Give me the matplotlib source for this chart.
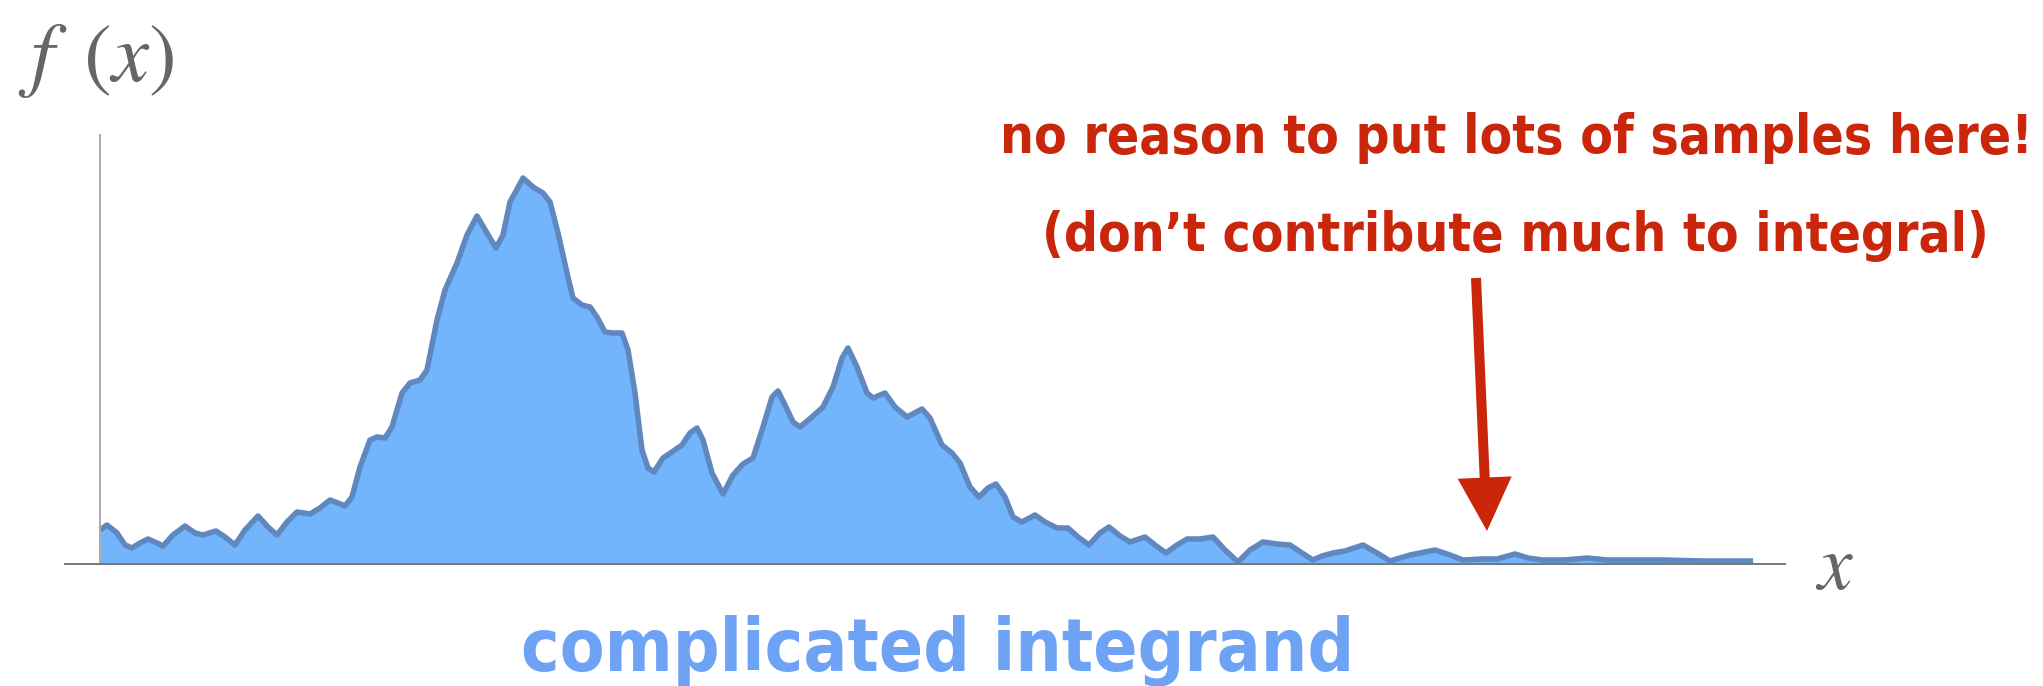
import numpy as np
import matplotlib
matplotlib.use("Agg")
import matplotlib.pyplot as plt
from matplotlib import font_manager as fm
from matplotlib.patches import FancyArrowPatch, ArrowStyle

plt.rcParams['mathtext.fontset'] = 'stix'

# curve: x along the axis, height above it (pixels)
xs = [0, 7, 17, 25, 32, 40, 48, 57, 63, 73, 85, 95, 103, 116, 125, 135, 145,
      158, 168, 177, 187, 197, 210, 220, 230, 238, 245, 252, 260, 270, 277,
      285, 292, 302, 310, 320, 327, 337, 345, 357, 367, 377, 387, 396, 403,
      410, 415, 423, 433, 443, 450, 458, 467, 473, 482, 490, 497, 505, 513,
      522, 528, 535, 542, 548, 554, 563, 572, 582, 590, 597, 603, 612, 623,
      633, 643, 653, 663, 672, 678, 685, 693, 700, 712, 723, 733, 742, 748,
      757, 767, 773, 785, 795, 807, 822, 830, 842, 852, 860, 870, 879, 888,
      896, 905, 913, 922, 935, 945, 957, 968, 978, 989, 1000, 1009, 1020,
      1030, 1045, 1055, 1066, 1077, 1087, 1100, 1113, 1125, 1138, 1150, 1163,
      1177, 1190, 1202, 1213, 1222, 1233, 1245, 1263, 1277, 1290, 1310, 1335,
      1350, 1363, 1383, 1397, 1415, 1428, 1442, 1465, 1487, 1507, 1530, 1563,
      1603, 1630, 1653]
fx = [34, 39, 31, 19, 16, 21, 25, 21, 18, 29, 38, 31, 29, 33, 27, 19, 34,
      48, 37, 29, 42, 52, 50, 56, 64, 61, 58, 67, 97, 124, 127,
      126, 137, 171, 181, 184, 194, 244, 274, 301, 329, 348, 331, 316, 329,
      362, 371, 386, 377, 371, 362, 331, 291, 266, 259, 257, 247, 232, 231,
      231, 214, 171, 114, 96, 92, 106, 112, 119, 131, 136, 124, 91, 70,
      89, 100, 106, 137, 167, 173, 159, 142, 137, 147, 157, 177, 206, 216,
      197, 171, 166, 171, 157, 147, 155, 146, 119, 111, 101, 77, 67, 76,
      80, 67, 47, 42, 49, 42, 36, 36, 27, 19, 31, 37, 28,
      22, 27, 19, 11, 19, 25, 25, 27, 14, 2, 14, 22,
      20, 19, 11, 4, 8, 11, 13, 19, 11, 3, 9, 14,
      9, 4, 5, 5, 10, 6, 4, 4, 6, 4, 4, 4,
      3, 3, 3]

note_lines = ["no reason to put lots of samples here!",
              "(don\u2019t contribute much to integral)"]
caption = "complicated integrand"


def pick_font():
    have = {(f.name, f.stretch) for f in fm.fontManager.ttflist}
    names = {f.name for f in fm.fontManager.ttflist}
    if 'Liberation Sans Narrow' in names:
        return dict(family='Liberation Sans Narrow')
    for n in ['DejaVu Sans', 'Open Sans', 'Noto Sans', 'Roboto']:
        for st in ['condensed', 'semi-condensed', 62.5, 75, 87.5]:
            if (n, st) in have:
                return dict(family=n, stretch=st)
    for n in ['Roboto Condensed', 'Open Sans Condensed', 'Noto Sans Condensed']:
        if n in names:
            return dict(family=n)
    return dict(family='Roboto')


bold = pick_font()
bold['weight'] = 'bold'

W, H = 2043, 686
fig = plt.figure(figsize=(W / 100, H / 100), dpi=100)
ax = fig.add_axes([65 / W, (H - 564) / H, (1785 - 65) / W, (564 - 134) / H])

ax.fill_between(xs, fx, 0, color='#72b5fc', lw=0)
ax.plot(xs, fx, color='#6088c0', lw=4.0, solid_joinstyle='round',
        solid_capstyle='butt', clip_on=False)
ax.axvline(0, color='#aaaaaa', lw=1.4)

ax.set_xlim(-35, 1685)
ax.set_ylim(0, 430)
for s in ['top', 'right', 'left']:
    ax.spines[s].set_visible(False)
ax.spines['bottom'].set_color('#777777')
ax.spines['bottom'].set_linewidth(1.4)
ax.set_xticks([])
ax.set_yticks([])

# axis labels
fig.text(96 / W, 1 - 59 / H, r'$f\ \,(x)$', fontsize=60, color='#666666',
         ha='center', va='center')
fig.text(1834 / W, 1 - 567 / H, r'$x$', fontsize=56, color='#666666',
         ha='center', va='center')

red = '#c9260b'
t1 = fig.text(1517 / W, 1 - 153 / H, note_lines[0], color=red, fontsize=40,
              ha='center', va='baseline', **bold)
t2 = fig.text(1515 / W, 1 - 251 / H, note_lines[1], color=red, fontsize=40,
              ha='center', va='baseline', **bold)
t3 = fig.text(938 / W, 1 - 671 / H, caption, color='#6ea2f5', fontsize=50,
              ha='center', va='baseline', **bold)

# fit text widths to the picture
fig.canvas.draw()
r = fig.canvas.get_renderer()
sc = 1032 / t1.get_window_extent(r).width
t1.set_fontsize(40 * sc)
t2.set_fontsize(40 * sc)
t3.set_fontsize(50 * 834 / t3.get_window_extent(r).width)

arrow = FancyArrowPatch((1476 / W, 1 - 278 / H), (1487 / W, 1 - 531 / H),
                        transform=fig.transFigure,
                        arrowstyle=ArrowStyle('simple', head_length=38.5,
                                              head_width=38.9, tail_width=7.2),
                        mutation_scale=1, shrinkA=0, shrinkB=0,
                        color=red, lw=0)
fig.add_artist(arrow)

fig.savefig('out.png', dpi=100)
